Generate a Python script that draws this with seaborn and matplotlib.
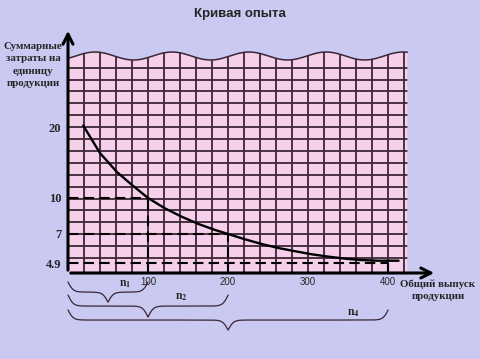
import numpy as np
import pandas as pd
import matplotlib
matplotlib.use('Agg')
import matplotlib.pyplot as plt
from matplotlib.patches import Polygon
import seaborn as sns

# data: output volume vs unit cost
out_volume = [19, 40, 61, 80, 100, 121, 142, 163, 184, 200, 221, 242, 263, 284,
              305, 325, 346, 367, 388, 413]
unit_cost = [20.3, 15.5, 12.9, 11.35, 10.0, 9.03, 8.31, 7.73, 7.28, 7.0, 6.56, 6.19,
             5.89, 5.66, 5.45, 5.30, 5.17, 5.08, 5.04, 5.04]

# marked points on the curve
mark_volume = [100, 200, 400]
mark_cost = [10, 7, 4.9]
cost_ticks = [4.9, 7, 10, 20]
cost_tick_labels = ['4.9', '7', '10', '20']
volume_ticks = [100, 200, 300, 400]
brace_ends = [100, 200, 400]
brace_labels = [r'$\mathbf{n_1}$', r'$\mathbf{n_2}$', r'$\mathbf{n_4}$']

df = pd.DataFrame({'volume': out_volume, 'cost': unit_cost})

sns.set_theme(style='white')
plt.rcParams['font.family'] = ['Liberation Serif', 'DejaVu Sans']
plt.rcParams['mathtext.fontset'] = 'stix'

bg = '#c9c9f1'
paper = '#f6d0ea'
ink = '#3a2636'

fig = plt.figure(figsize=(4.8, 3.59), dpi=100, facecolor=bg)
ax = fig.add_axes([68 / 480, 86 / 359, 369 / 480, 245 / 359])
ax.set_facecolor('none')

# schematic (non linear) cost axis, like the hand drawn original
knot_v = np.array([4.0, 4.9, 7, 10, 20, 60])
knot_p = np.array([-6.5, 10, 39, 75, 146, 258.5])

def fwd(v):
    return np.interp(np.log(np.clip(v, 1e-3, None)), np.log(knot_v), knot_p)

def inv(p):
    return np.exp(np.interp(p, knot_p, np.log(knot_v)))

ax.set_yscale('function', functions=(fwd, inv))
ax.set_xlim(0, 461)
ax.set_ylim(inv(0), inv(245))

# graph paper with wavy top edge
xw = np.linspace(0, 424, 200)
wave_px = 56 - 4 * np.cos(2 * np.pi * (xw * 0.8 + 68 - 95) / 77)
wave = (273 - wave_px) / 245
trans = ax.get_xaxis_transform()
poly = np.column_stack([np.r_[0, xw, 424], np.r_[0, wave, 0]])
paper_patch = Polygon(poly, closed=True, facecolor=paper, edgecolor='none',
                      transform=trans, zorder=0)
ax.add_patch(paper_patch)
ax.plot(xw, wave, transform=trans, color=ink, lw=1.1, zorder=2)

gl = ax.vlines(np.arange(20, 421, 20), 0, 1, transform=trans, color=ink, lw=1.3, zorder=1)
gl.set_clip_path(paper_patch)
hy = (15 + 11.9 * np.arange(0, 17)) / 245
gh = ax.hlines(hy, 0, 1, transform=ax.transAxes, color=ink, lw=1.3, zorder=1)
gh.set_clip_path(paper_patch)

# dashed guides
ax.hlines(mark_cost, 0, mark_volume, color='black', lw=1.5, linestyles=(0, (5, 2.5)), zorder=3)
ax.vlines(mark_volume, inv(0), mark_cost, color='black', lw=1.5, linestyles=(0, (5, 2.5)), zorder=3)

sns.lineplot(data=df, x='volume', y='cost', color='black', lw=1.7, ax=ax, zorder=4)

# axes with arrows
for s in ax.spines.values():
    s.set_visible(False)
ax.annotate('', xy=(0, 1), xytext=(0, 0), xycoords='axes fraction',
            arrowprops=dict(arrowstyle='->,head_length=0.6,head_width=0.3', lw=2.2, color='black'))
ax.annotate('', xy=(1, 0), xytext=(0, 0), xycoords='axes fraction',
            arrowprops=dict(arrowstyle='->,head_length=0.6,head_width=0.3', lw=2.2, color='black'))

ax.set_yticks(cost_ticks)
ax.set_yticklabels(cost_tick_labels, fontsize=9, fontweight='bold')
ax.yaxis.set_minor_locator(matplotlib.ticker.NullLocator())
ax.set_xticks(volume_ticks)
ax.set_xticklabels([str(v) for v in volume_ticks], fontsize=7, family='Liberation Sans')
ax.tick_params(axis='y', length=0, pad=5)
ax.tick_params(axis='x', length=0, pad=3)
ax.set_xlabel('')
ax.set_ylabel('')

# braces under the x axis
def brace(x0, x1, y_top, depth, beta=0.3):
    half = (x1 - x0) / 2
    t = np.linspace(0, half, 150)
    s = 1 / (1 + np.exp(-beta * t)) + 1 / (1 + np.exp(-beta * (t - half)))
    xs = np.r_[x0 + t, x1 - t[::-1]]
    ss = np.r_[s, s[::-1]]
    ax.plot(xs, y_top - (ss - 0.5) * depth, transform=trans, color=ink, lw=0.9, clip_on=False)

brace(0, brace_ends[0], -0.037, 0.082)
brace(0, brace_ends[1], -0.090, 0.090)
brace(0, brace_ends[2], -0.151, 0.082)
ax.text(71, -0.045, brace_labels[0], transform=trans, fontsize=8.5, ha='center', va='center')
ax.text(142, -0.098, brace_labels[1], transform=trans, fontsize=8.5, ha='center', va='center')
ax.text(356, -0.163, brace_labels[2], transform=trans, fontsize=8.5, ha='center', va='center')

fig.text(0.5, 1 - 14 / 359, 'Кривая опыта', ha='center', va='center',
         fontsize=9.5, fontweight='bold', family='Liberation Sans')
fig.text(33 / 480, 1 - 65 / 359, 'Суммарные\nзатраты на\nединицу\nпродукции',
         ha='center', va='center', fontsize=7.8, fontweight='bold', linespacing=1.45)
fig.text(438 / 480, 1 - 290 / 359, 'Общий выпуск\nпродукции',
         ha='center', va='center', fontsize=7.8, fontweight='bold', linespacing=1.4)

fig.savefig('out.png', dpi=100, facecolor=bg)
